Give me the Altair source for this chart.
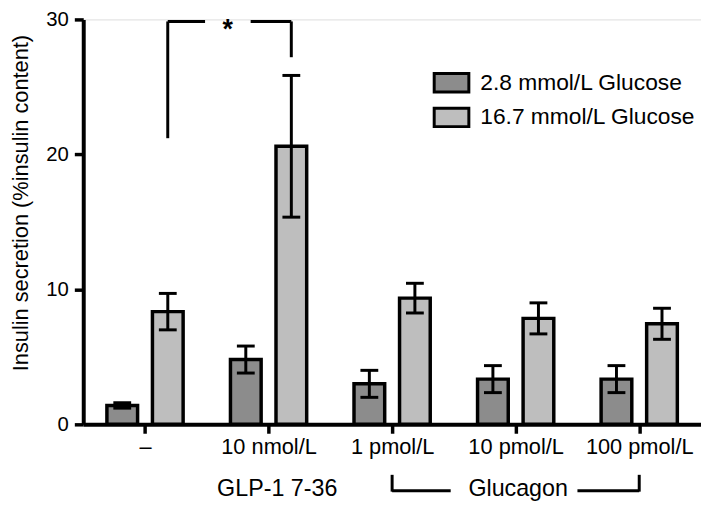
import json
import altair as alt
import pandas as pd

# ---- data ----
groups = ["–", "10 nmol/L", "1 pmol/L", "10 pmol/L", "100 pmol/L"]
series = ["2.8 mmol/L Glucose", "16.7 mmol/L Glucose"]
low_mean = [1.4, 4.8, 3.0, 3.35, 3.35]
low_err = [0.2, 1.0, 1.0, 1.0, 1.0]
high_mean = [8.35, 20.6, 9.35, 7.85, 7.45]
high_err = [1.35, 5.25, 1.1, 1.15, 1.15]
y_ticks = [0, 10, 20, 30]

# significance bracket (data units)
sig_x = [0.684, 0.684, 1.355, 1.684]
sig_x2 = [0.684, 0.986, 1.684, 1.684]
sig_y = [21.2, 29.85, 29.85, 27.2]
sig_y2 = [29.85, 29.85, 29.85, 29.85]

# ---- layout constants ----
W, H = 624, 409
STEP = W / 5.0
OFF = 23 / STEP
HALF = 15.5 / STEP
CAP = 9 / STEP
FONT = "Liberation Sans"

rows = []
for i, g in enumerate(groups):
    rows.append({"group": g, "gi": i, "si": 0, "series": series[0],
                 "mean": low_mean[i], "err": low_err[i]})
    rows.append({"group": g, "gi": i, "si": 1, "series": series[1],
                 "mean": high_mean[i], "err": high_err[i]})
df = pd.DataFrame(rows)

xscale = alt.Scale(domain=[0, 5], nice=False, zero=False)
yscale = alt.Scale(domain=[0, 30], nice=False)

base = alt.Chart(df).transform_calculate(
    xc=f"datum.gi + 0.5 + (datum.si == 0 ? -{OFF} : {OFF})"
).transform_calculate(
    xl=f"datum.xc - {HALF}",
    xr=f"datum.xc + {HALF}",
    cl=f"datum.xc - {CAP}",
    cr=f"datum.xc + {CAP}",
    lo="datum.mean - datum.err",
    hi="datum.mean + datum.err",
    zero="0",
)

label_expr = json.dumps(groups, ensure_ascii=False) + "[round(datum.value - 0.5)]"

legend_path = "M-1,-0.53L1,-0.53L1,0.53L-1,0.53Z"

bars = base.mark_bar(stroke="black", strokeWidth=3.5).encode(
    x=alt.X("xl:Q", scale=xscale,
            axis=alt.Axis(values=[0.5, 1.5, 2.5, 3.5, 4.5], labelExpr=label_expr,
                          title=None, grid=False, domainWidth=4, domainColor="black",
                          tickWidth=3.5, tickSize=9, tickColor="black",
                          labelFontSize=22, labelFont=FONT, labelColor="black",
                          labelPadding=3)),
    x2="xr:Q",
    y=alt.Y("mean:Q", scale=yscale,
            axis=alt.Axis(values=y_ticks, title="Insulin secretion (%insulin content)",
                          grid=False, domainWidth=4, domainColor="black",
                          tickWidth=3.5, tickSize=9, tickColor="black",
                          labelFontSize=20.5, labelFont=FONT, labelColor="black",
                          labelPadding=6, titleFont=FONT, titleFontSize=22,
                          titleFontWeight="normal", titleColor="black",
                          titleAngle=-90, titleX=-56, titleY=185,
                          titleBaseline="alphabetic", titleAlign="center")),
    y2="zero:Q",
    color=alt.Color("series:N",
                    scale=alt.Scale(domain=series, range=["#8c8c8c", "#bebebe"]),
                    legend=alt.Legend(title=None, orient="none", legendX=353, legendY=45,
                                      symbolType=legend_path, symbolSize=1225,
                                      symbolStrokeColor="black", symbolStrokeWidth=3,
                                      symbolOpacity=1, labelFontSize=23, labelFont=FONT,
                                      labelColor="black", labelOffset=10, rowPadding=-5,
                                      labelLimit=0, padding=0)),
)

whisker = base.mark_rule(color="black", strokeWidth=3).encode(
    x="xc:Q", y="lo:Q", y2="hi:Q")
cap_hi = base.mark_rule(color="black", strokeWidth=3).encode(
    x="cl:Q", x2="cr:Q", y="hi:Q")
cap_lo = base.mark_rule(color="black", strokeWidth=3).encode(
    x="cl:Q", x2="cr:Q", y="lo:Q")

sig_df = pd.DataFrame({"x": sig_x, "x2": sig_x2, "y": sig_y, "y2": sig_y2})
sig = alt.Chart(sig_df).mark_rule(color="black", strokeWidth=3).encode(
    x="x:Q", x2="x2:Q", y="y:Q", y2="y2:Q")
star = alt.Chart(pd.DataFrame({"t": ["*"]})).mark_text(
    fontSize=27, fontWeight="bold", font=FONT, baseline="alphabetic", align="center",
    color="black").encode(x=alt.datum(1.17), y=alt.datum(28.6), text="t:N")

# bottom annotations
glp = alt.Chart(pd.DataFrame({"t": ["GLP-1 7-36"]})).mark_text(
    fontSize=23.5, font=FONT, baseline="alphabetic", align="center", color="black"
).encode(x=alt.datum(1.57), y=alt.value(481), text="t:N")
glu = alt.Chart(pd.DataFrame({"t": ["Glucagon"]})).mark_text(
    fontSize=23.5, font=FONT, baseline="alphabetic", align="center", color="black"
).encode(x=alt.datum(3.52), y=alt.value(481), text="t:N")

bx = pd.DataFrame({"x": [2.5, 2.5, 4.0, 4.5], "x2": [2.5, 2.974, 4.5, 4.5],
                   "k": ["v", "h", "h", "v"]})
br_v = alt.Chart(bx[bx.k == "v"]).mark_rule(color="black", strokeWidth=3).encode(
    x="x:Q", y=alt.value(460), y2=alt.value(477))
br_h = alt.Chart(bx[bx.k == "h"]).mark_rule(color="black", strokeWidth=3).encode(
    x="x:Q", x2="x2:Q", y=alt.value(476))

chart = alt.layer(bars, whisker, cap_hi, cap_lo, sig, star, glp, glu, br_v, br_h).properties(
    width=W, height=H,
    autosize=alt.AutoSizeParams(type="none"),
    padding={"left": 76, "top": 9, "right": 0, "bottom": 85},
).configure_view(stroke=None).configure(background="white")

chart.save("out.html", embed_options={"renderer": "svg", "actions": False})
